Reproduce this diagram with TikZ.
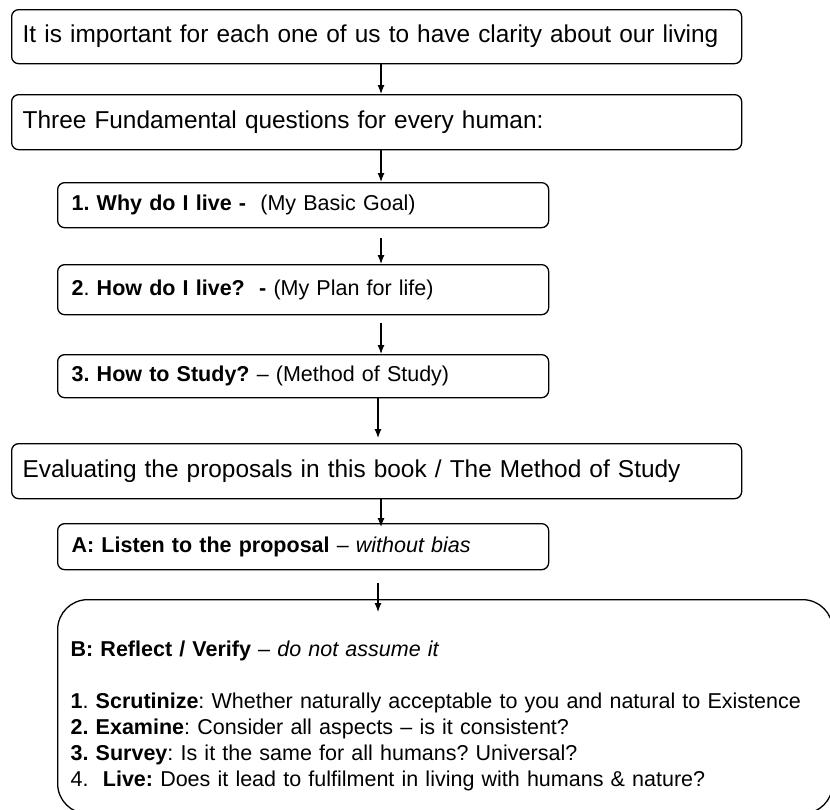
\documentclass[tikz,border=0pt]{standalone}
\usepackage{fontspec}
\setmainfont{Liberation Sans}
\usetikzlibrary{arrows.meta, positioning}
\frenchspacing

\begin{document}
\begin{tikzpicture}[
  x=1pt, y=-1pt,
  wide/.style={rectangle, draw=black, line width=1.3pt, rounded corners=7pt, anchor=north west, text width=708pt, inner xsep=11pt, inner ysep=0pt, align=left, font=\fontsize{24.4}{29}\selectfont},
  ask/.style={wide, text width=463pt, inner xsep=14pt, font=\fontsize{21.5}{26}\selectfont},
  arrow/.style={line width=1.2pt, -{Latex[length=9pt,width=7pt]}}
]
\useasboundingbox (0,0) rectangle (830,809);
\clip (0,0) rectangle (830,809);

\node (clarity) [wide, minimum height=54pt] at (11,9) {It is important for each one of us to have clarity about our living};
\node (three) [wide, minimum height=55pt] at (11,94) {Three Fundamental questions for every human:};
\node (why) [ask, minimum height=45pt] at (57,182) {\textbf{1. Why do I live -}\ \ (My Basic Goal)};
\node (how) [ask, minimum height=50pt] at (57,264) {\textbf{2}. \textbf{How do I live?\ \ -} (My Plan for life)};
\node (study) [ask, minimum height=43pt] at (57,354) {\textbf{3. How to Study?} -- (Method of Study)};
\node (evaluate) [wide, minimum height=55pt] at (11,443) {Evaluating the proposals in this book / The Method of Study};
\node (listen) [ask, minimum height=46pt] at (57,523) {\textbf{A: Listen to the proposal} -- \textit{without bias}};
\node (reflect) [ask, rounded corners=30pt, text width=749pt, inner xsep=13pt, minimum height=214pt] at (57,599) {%
  \rule{0pt}{35pt}\textbf{B: Reflect / Verify} -- \textit{do not assume it}\\[26pt]
  \textbf{1}. \textbf{Scrutinize}: Whether naturally acceptable to you and natural to Existence\\
  \textbf{2. Examine}: Consider all aspects -- is it consistent?\\
  \textbf{3. Survey}: Is it the same for all humans? Universal?\\
  4.\ \ \textbf{Live:} Does it lead to fulfilment in living with humans \& nature?};

% the arrows run down one spine
\coordinate (spine) at (381,0);
\coordinate (spinel) at (378,0);
\draw [arrow] (clarity.south -| spine) -- (three.north -| spine);
\draw [arrow] (three.south -| spine) -- (why.north -| spine);
\draw [arrow, shorten <=10pt] (why.south -| spine) -- (how.north -| spine);
\draw [arrow, shorten <=8pt] (how.south -| spine) -- (study.north -| spine);
\draw [arrow, shorten >=5pt] (study.south -| spinel) -- (evaluate.north -| spinel);
\draw [arrow, shorten >=-4pt] (evaluate.south -| spine) -- (listen.north -| spine);
\draw [arrow, shorten <=13pt, shorten >=-13pt] (listen.south -| spinel) -- (reflect.north -| spinel);
\end{tikzpicture}
\end{document}
